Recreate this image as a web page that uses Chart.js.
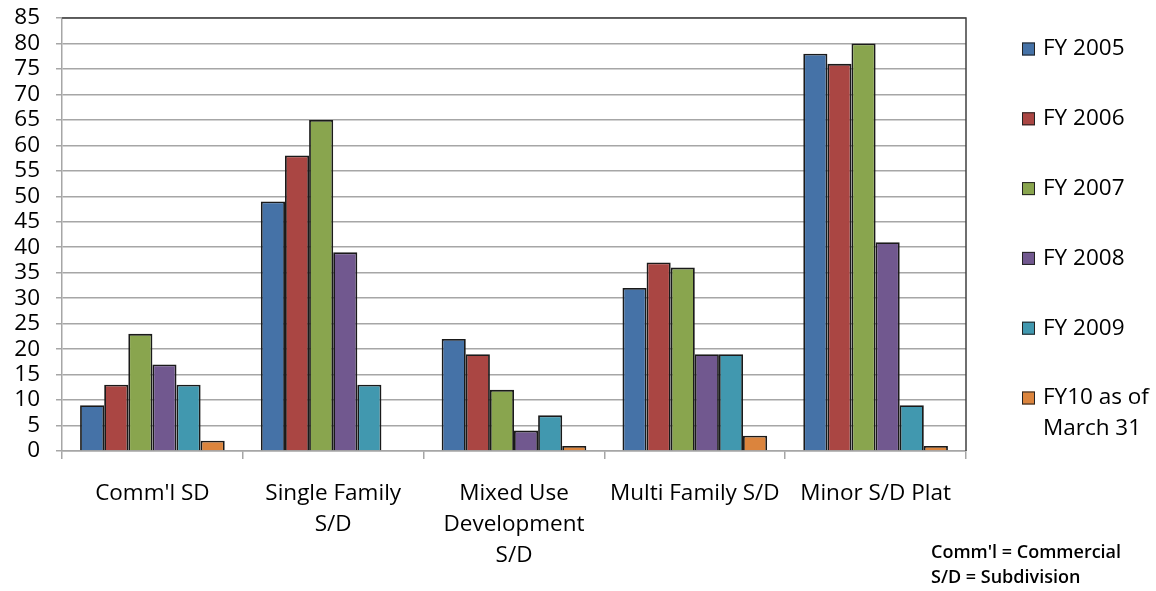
<!DOCTYPE html>
<html>
<head>
<meta charset="utf-8">
<script src="https://cdn.jsdelivr.net/npm/chart.js@4/dist/chart.umd.min.js"></script>
<style>
  html, body { margin: 0; padding: 0; background: #fff; }
  #wrap { width: 1156px; height: 591px; position: relative; }
</style>
</head>
<body>
<div id="wrap"><canvas id="c" width="1156" height="591"></canvas></div>
<script>
// Subdivision applications by type, per fiscal year
const categories = [
  "Comm'l SD",
  ["Single Family", "S/D"],
  ["Mixed Use", "Development", "S/D"],
  "Multi Family S/D",
  "Minor S/D Plat"
];
const seriesNames = ["FY 2005", "FY 2006", "FY 2007", "FY 2008", "FY 2009", "FY10 as of\nMarch 31"];
const fy2005 = [9, 49, 22, 32, 78];
const fy2006 = [13, 58, 19, 37, 76];
const fy2007 = [23, 65, 12, 36, 80];
const fy2008 = [17, 39, 4, 19, 41];
const fy2009 = [13, 13, 7, 19, 9];
const fy2010 = [2, 0, 1, 3, 1];
const seriesColors = ["#4572A7", "#AA4643", "#89A54E", "#71588F", "#4198AF", "#DB843D"];
const yTicks = { min: 0, max: 85, step: 5 };
const footnote = ["Comm'l = Commercial", "S/D = Subdivision"];

const FONT = "'Open Sans', 'Liberation Sans', sans-serif";
const seriesValues = [fy2005, fy2006, fy2007, fy2008, fy2009, fy2010];

// Plot frame: dark top and right edges
const frame = {
  id: 'frame',
  afterDatasetsDraw(chart) {
    const { ctx, chartArea: a } = chart;
    ctx.save();
    ctx.strokeStyle = '#404040';
    ctx.lineWidth = 1.5;
    ctx.beginPath();
    ctx.moveTo(a.left, a.top);
    ctx.lineTo(a.right, a.top);
    ctx.lineTo(a.right, a.bottom);
    ctx.stroke();
    ctx.restore();
  }
};

// Vertical legend on the right plus the abbreviation note
const sideLegend = {
  id: 'sideLegend',
  afterDraw(chart) {
    const { ctx } = chart;
    ctx.save();
    ctx.font = `22.5px ${FONT}`;
    ctx.textBaseline = 'middle';
    ctx.textAlign = 'left';
    chart.data.datasets.forEach((ds, i) => {
      const y = 49 + i * 69.8;
      ctx.fillStyle = ds.backgroundColor;
      ctx.fillRect(1022, y - 6.5, 13, 13);
      ctx.strokeStyle = '#222';
      ctx.lineWidth = 1;
      ctx.strokeRect(1022.5, y - 6, 12, 12);
      ctx.fillStyle = '#000';
      ds.label.split('\n').forEach((line, k) => {
        ctx.fillText(line, 1043, y + k * 31);
      });
    });
    ctx.font = `600 18px ${FONT}`;
    footnote.forEach((line, k) => {
      ctx.fillText(line, 931, 553 + k * 25);
    });
    ctx.restore();
  }
};

new Chart(document.getElementById('c'), {
  type: 'bar',
  data: {
    labels: categories,
    datasets: seriesNames.map((name, i) => ({
      label: name,
      data: seriesValues[i],
      backgroundColor: seriesColors[i],
      borderColor: '#1a1a1a',
      borderWidth: 1.8,
      borderSkipped: 'bottom',
      categoryPercentage: 0.8,
      barPercentage: 1.0
    }))
  },
  options: {
    responsive: false,
    animation: false,
    devicePixelRatio: 1,
    layout: { padding: { top: 18, right: 190, left: 0, bottom: 0 } },
    plugins: {
      legend: { display: false },
      tooltip: { enabled: false }
    },
    scales: {
      x: {
        type: 'category',
        offset: true,
        afterFit(s) { s.height = 140; s.paddingLeft = 0; s.paddingRight = 0; },
        grid: {
          offset: true,
          drawOnChartArea: false,
          drawTicks: true,
          tickLength: 8,
          color: '#a6a6a6',
          lineWidth: 1.5
        },
        border: { color: '#a6a6a6', width: 1.5 },
        ticks: {
          maxRotation: 0,
          autoSkip: false,
          padding: 19,
          color: '#000',
          font: { family: FONT, size: 22.5, lineHeight: 1.38 }
        }
      },
      y: {
        min: yTicks.min,
        max: yTicks.max,
        afterFit(s) { s.width = 62; s.paddingTop = 0; s.paddingBottom = 0; },
        grid: {
          color: '#a6a6a6',
          lineWidth: 1.5,
          tickLength: 6
        },
        border: { color: '#a6a6a6', width: 1.5 },
        ticks: {
          stepSize: yTicks.step,
          autoSkip: false,
          padding: 16,
          color: '#000',
          font: { family: FONT, size: 22.5 }
        }
      }
    }
  },
  plugins: [frame, sideLegend]
});
</script>
</body>
</html>
